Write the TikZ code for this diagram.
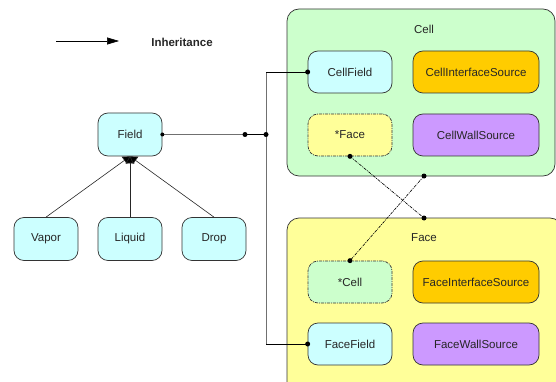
\documentclass[tikz,border=0pt]{standalone}
\usepackage{fontspec}
\setmainfont{Liberation Sans}
\usetikzlibrary{arrows.meta}
\definecolor{cyanfill}{HTML}{CCFFFF}
\definecolor{greenfill}{HTML}{CCFFCC}
\definecolor{yellowfill}{HTML}{FFFF99}
\definecolor{orangefill}{HTML}{FFCC00}
\definecolor{purplefill}{HTML}{CC99FF}
\definecolor{edgegrey}{HTML}{333333}
\definecolor{linegrey}{HTML}{707070}
\tikzset{
  cls/.style={draw=edgegrey, line width=0.7pt, rounded corners=10pt, minimum height=42pt,
    minimum width=84pt, inner sep=0pt, font=\fontsize{11.5}{13}\selectfont, text=black!85},
  small/.style={cls, minimum width=64pt, minimum height=43pt},
  wide/.style={cls, minimum width=126pt},
  ptr/.style={cls, dash pattern=on 3pt off 1pt on 1pt off 1pt},
  grp/.style={draw=edgegrey, line width=0.7pt, rounded corners=12pt, inner sep=0pt},
  grplabel/.style={font=\fontsize{11.5}{13}\selectfont, text=black!85},
  dot/.style={circle, fill=black, inner sep=0pt, minimum size=5pt},
  sdot/.style={circle, fill=black, inner sep=0pt, minimum size=4pt},
  inherit/.style={draw=black!85, line width=0.6pt, -{Triangle[width=9pt,length=7pt,fill=black]}},
  assoc/.style={draw=black, line width=0.6pt, dash pattern=on 3pt off 1pt on 1pt off 1pt},
}
\begin{document}
\begin{tikzpicture}[x=1pt, y=-1pt]
\useasboundingbox (0,0) rectangle (556,382);

% legend
\coordinate (la) at (56,41);
\coordinate (lb) at (119,41);
\draw[line width=0.6pt, -{Triangle[width=7pt,length=12pt]}] (la) -- (lb);
\node[font=\bfseries\fontsize{11.5}{13}\selectfont, text=black!85] (legend) at (182,42) {Inheritance};

% container groups
\node[grp, fill=greenfill, minimum width=268pt, minimum height=167pt] (cellgrp) at (421,92.5) {};
\node[grp, fill=yellowfill, minimum width=275pt, minimum height=176pt] (facegrp) at (424.5,306) {};
\node[grplabel] (celllabel) at (424,29) {Cell};
\node[grplabel] (facelabel) at (424,238) {Face};

% field hierarchy
\node[small, fill=cyanfill] (field) at (130,134.5) {Field};
\node[small, fill=cyanfill] (vapor) at (46,239) {Vapor};
\node[small, fill=cyanfill] (liquid) at (130,239) {Liquid};
\node[small, fill=cyanfill] (drop) at (214,239) {Drop};
\draw[inherit] (vapor.north) -- (field.south);
\draw[inherit] (liquid.north) -- (field.south);
\draw[inherit] (drop.north) -- (field.south);

% cell members
\node[cls, fill=cyanfill] (cellfield) at (350,72) {CellField};
\node[wide, fill=orangefill] (cellif) at (476,72) {CellInterfaceSource};
\node[ptr, fill=yellowfill] (starface) at (350,135) {*Face};
\node[wide, fill=purplefill] (cellwall) at (476,135) {CellWallSource};

% face members
\node[ptr, fill=greenfill] (starcell) at (350,282) {*Cell};
\node[wide, fill=orangefill] (faceif) at (476,282) {FaceInterfaceSource};
\node[cls, fill=cyanfill] (facefield) at (350,344) {FaceField};
\node[wide, fill=purplefill] (facewall) at (476,344) {FaceWallSource};

% field composition links
\coordinate (j1) at (245,134.5);
\coordinate (j2) at (266,134.5);
\draw[linegrey, line width=1.2pt] (field.east) -- (j1);
\draw[black, line width=1.5pt] (j1) -- (j2);
\draw[linegrey, line width=0.8pt] (j2) |- (cellfield.west);
\draw[linegrey, line width=0.8pt] (j2) |- (facefield.west);
\draw[black, line width=0.7pt] (266,72) -- (cellfield.west);
\draw[black, line width=0.7pt] (266,344) -- (facefield.west);
\node[sdot] at (field.east) {};
\node[dot] at (j1) {};
\node[dot] at (j2) {};
\node[dot] at (cellfield.west) {};
\node[dot] at (facefield.west) {};

% cross pointers between cell and face
\coordinate (facetop) at (424,218);
\coordinate (cellbot) at (424,176);
\draw[assoc] (starface.south) -- (facetop);
\draw[assoc] (cellbot) -- (starcell.north);
\node[dot] at (starface.south) {};
\node[dot] at (facetop) {};
\node[dot] at (cellbot) {};
\node[dot] at (starcell.north) {};
\end{tikzpicture}
\end{document}
